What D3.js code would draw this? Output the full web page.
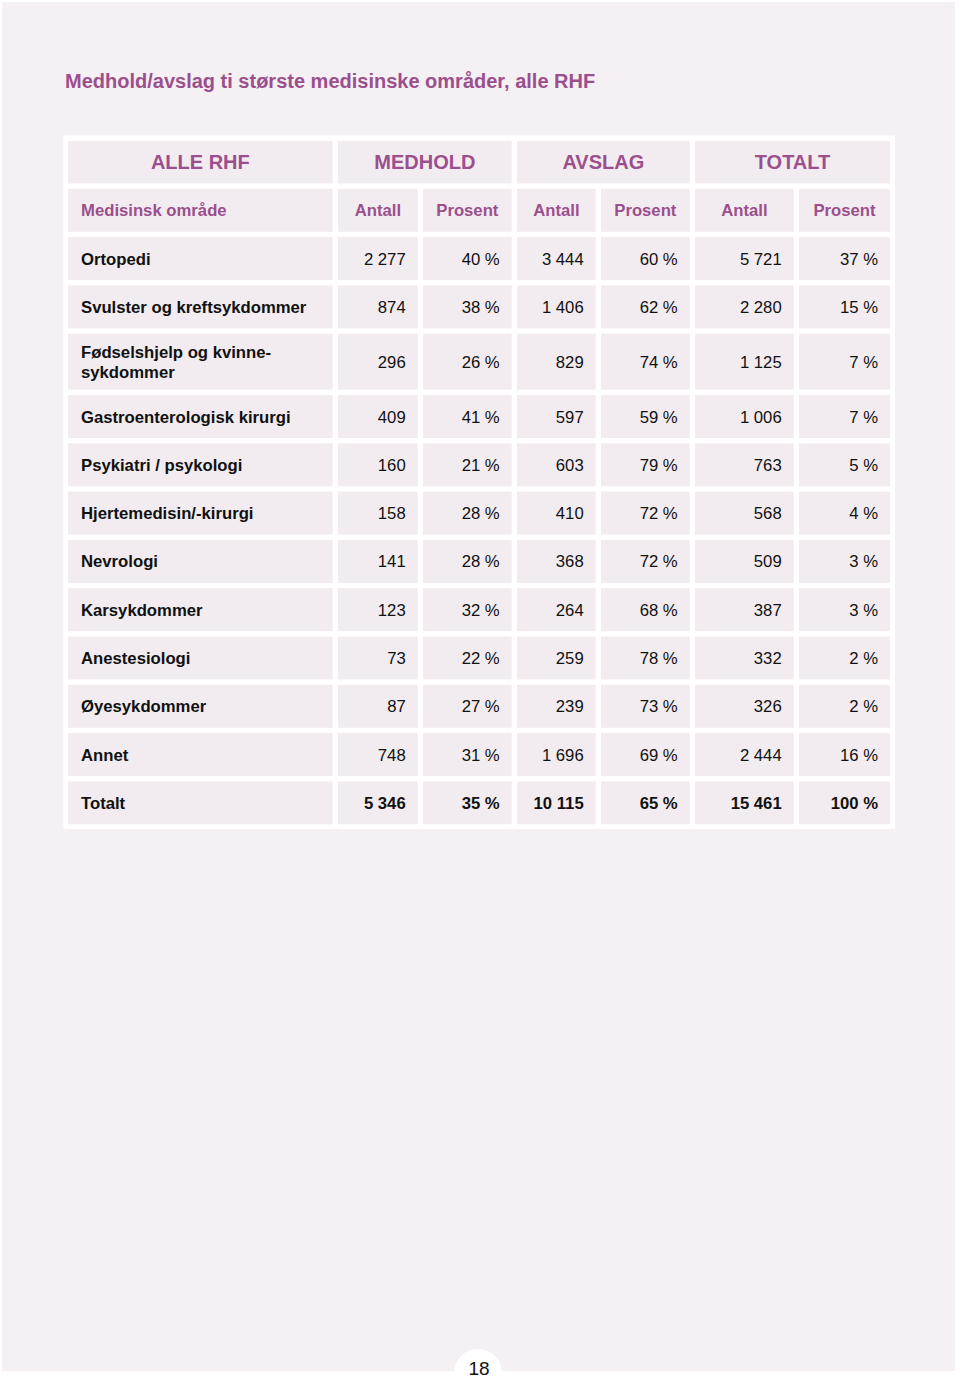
<!DOCTYPE html>
<html><head><meta charset="utf-8">
<script src="https://cdn.jsdelivr.net/npm/d3@7"></script>
<style>html,body{margin:0;padding:0;background:#fff;}svg{display:block;font-family:"Liberation Sans",Arial,sans-serif;}</style>
</head><body>
<script>
// ---- data ----
const title = "Medhold/avslag ti største medisinske områder, alle RHF";
const groupHeaders = ["ALLE RHF", "MEDHOLD", "AVSLAG", "TOTALT"];
const subHeaders = ["Medisinsk område", "Antall", "Prosent", "Antall", "Prosent", "Antall", "Prosent"];
const categories = [
  ["Ortopedi"],
  ["Svulster og kreftsykdommer"],
  ["Fødselshjelp og kvinne-", "sykdommer"],
  ["Gastroenterologisk kirurgi"],
  ["Psykiatri / psykologi"],
  ["Hjertemedisin/-kirurgi"],
  ["Nevrologi"],
  ["Karsykdommer"],
  ["Anestesiologi"],
  ["Øyesykdommer"],
  ["Annet"],
  ["Totalt"]
];
const medholdAntall = [2277, 874, 296, 409, 160, 158, 141, 123, 73, 87, 748, 5346];
const medholdProsent = [40, 38, 26, 41, 21, 28, 28, 32, 22, 27, 31, 35];
const avslagAntall = [3444, 1406, 829, 597, 603, 410, 368, 264, 259, 239, 1696, 10115];
const avslagProsent = [60, 62, 74, 59, 79, 72, 72, 68, 78, 73, 69, 65];
const totaltAntall = [5721, 2280, 1125, 1006, 763, 568, 509, 387, 332, 326, 2444, 15461];
const totaltProsent = [37, 15, 7, 7, 5, 4, 3, 3, 2, 2, 16, 100];
const pageNumber = "18";

// ---- layout ----
const W = 960, H = 1377;
const purple = "#9b4f8d";
const bg = "#f5f0f4";
const cellFill = "#f2ecf0";
const colEdges = [68, 338, 423, 517, 601, 695, 799, 890]; // left edges + final right
const gap = 5.3;
const rowHeights = [42.5, 43, 43, 43, 56, 43, 43, 43, 43, 43, 43, 43, 43, 43];
const tableTop = 141;
const fs = 16.7;

const fmtNum = v => d3.format(",")(v).replace(/,/g, " ");
const fmtPct = v => v + " %";

const svg = d3.select("body").append("svg").attr("width", W).attr("height", H);
svg.append("rect").attr("x", 2).attr("y", 2).attr("width", 953).attr("height", 1369).attr("fill", bg);

svg.append("text").attr("x", 65).attr("y", 88).attr("fill", purple)
  .attr("font-size", 20).attr("font-weight", "bold").text(title);

// row tops
const rowTops = [];
let y = tableTop;
rowHeights.forEach(h => { rowTops.push(y); y += h + gap; });
const tableBottom = rowTops[rowTops.length - 1] + rowHeights[rowHeights.length - 1];

svg.append("rect").attr("x", 63.5).attr("y", 135.5)
  .attr("width", 895 - 63.5).attr("height", tableBottom + 4.5 - 135.5).attr("fill", "#fff");

const colX = i => colEdges[i];
const colW = i => colEdges[i + 1] - colEdges[i] - (i < 6 ? gap : 0);

const g = svg.append("g");

// header row 1
const groupSpans = [[0, 0], [1, 2], [3, 4], [5, 6]];
groupSpans.forEach((s, i) => {
  const x0 = colX(s[0]), x1 = colX(s[1]) + colW(s[1]);
  g.append("rect").attr("x", x0).attr("y", rowTops[0]).attr("width", x1 - x0).attr("height", rowHeights[0]).attr("fill", cellFill);
  g.append("text").attr("x", (x0 + x1) / 2).attr("y", rowTops[0] + rowHeights[0] / 2 + 7)
    .attr("text-anchor", "middle").attr("fill", purple).attr("font-size", 20).attr("font-weight", "bold").text(groupHeaders[i]);
});

// header row 2
subHeaders.forEach((t, i) => {
  g.append("rect").attr("x", colX(i)).attr("y", rowTops[1]).attr("width", colW(i)).attr("height", rowHeights[1]).attr("fill", cellFill);
  const tx = i === 0 ? colX(i) + 13 : colX(i) + colW(i) / 2;
  g.append("text").attr("x", tx).attr("y", rowTops[1] + rowHeights[1] / 2 + 6)
    .attr("text-anchor", i === 0 ? "start" : "middle").attr("fill", purple)
    .attr("font-size", fs).attr("font-weight", "bold").text(t);
});

// body
const columns = [
  medholdAntall.map(fmtNum), medholdProsent.map(fmtPct),
  avslagAntall.map(fmtNum), avslagProsent.map(fmtPct),
  totaltAntall.map(fmtNum), totaltProsent.map(fmtPct)
];
categories.forEach((cat, r) => {
  const ry = rowTops[r + 2], rh = rowHeights[r + 2];
  const cy = ry + rh / 2;
  const isTotal = r === categories.length - 1;
  for (let c = 0; c < 7; c++) {
    g.append("rect").attr("x", colX(c)).attr("y", ry).attr("width", colW(c)).attr("height", rh).attr("fill", cellFill);
  }
  const lt = g.append("text").attr("x", colX(0) + 13).attr("fill", "#111")
    .attr("font-size", fs).attr("font-weight", "bold");
  const n = cat.length;
  cat.forEach((line, li) => {
    lt.append("tspan").attr("x", colX(0) + 13).attr("y", cy + 6 + (li - (n - 1) / 2) * 20).text(line);
  });
  columns.forEach((vals, ci) => {
    const c = ci + 1;
    g.append("text").attr("x", colX(c) + colW(c) - 12).attr("y", cy + 6)
      .attr("text-anchor", "end").attr("fill", "#111").attr("font-size", fs)
      .attr("font-weight", isTotal ? "bold" : "normal").text(vals[r]);
  });
});

// page number
svg.append("circle").attr("cx", 478).attr("cy", 1373).attr("r", 24).attr("fill", "#fff");
svg.append("rect").attr("x", 0).attr("y", 1371).attr("width", W).attr("height", 6).attr("fill", "#fff");
svg.append("text").attr("x", 479).attr("y", 1375).attr("text-anchor", "middle").attr("fill", "#111")
  .attr("font-size", 19).text(pageNumber);
</script>
</body></html>
